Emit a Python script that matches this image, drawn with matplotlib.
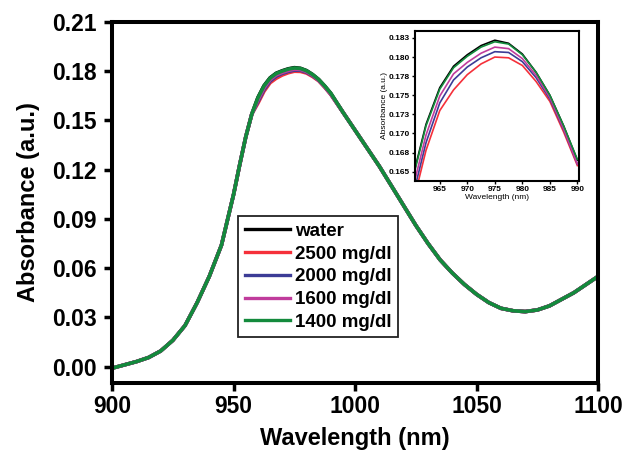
import matplotlib
matplotlib.use('Agg')
import matplotlib.pyplot as plt
import numpy as np

plt.rcParams['font.family'] = ['Liberation Sans', 'DejaVu Sans']

# shared tails of the spectra (curves overlap there)
wl_left = [900, 905, 910, 915, 920, 925, 930, 935, 940, 945, 950, 952.5,
           955, 957.5]
abs_left = [-0.001, 0.001, 0.003, 0.0055, 0.0095, 0.016, 0.025, 0.039,
            0.055, 0.074, 0.105, 0.123, 0.140, 0.154]
wl_right = [995, 1000, 1005, 1010, 1015, 1020, 1025, 1030, 1035, 1040,
            1045, 1050, 1055, 1060, 1065, 1070, 1075, 1080, 1085, 1090,
            1095, 1100]
abs_right = [0.155, 0.144, 0.133, 0.122, 0.110, 0.098, 0.086, 0.075,
             0.065, 0.057, 0.050, 0.044, 0.039, 0.0355, 0.034, 0.0335,
             0.0345, 0.037, 0.041, 0.045, 0.050, 0.055]

# peak region, per sample
wl_peak = [960, 962.5, 965, 967.5, 970, 972.5, 975, 977.5, 980, 982.5,
           985, 987.5, 990]
water = [0.1640, 0.1712, 0.1760, 0.1788, 0.1803, 0.1815, 0.1822, 0.1818,
         0.1804, 0.1780, 0.1750, 0.1710, 0.1665]
mg2500 = [0.1605, 0.1678, 0.1730, 0.1757, 0.1777, 0.1791, 0.1800, 0.1799,
          0.1789, 0.1768, 0.1742, 0.1702, 0.1658]
mg2000 = [0.1615, 0.1688, 0.1740, 0.1770, 0.1787, 0.1799, 0.1807, 0.1806,
          0.1794, 0.1773, 0.1745, 0.1705, 0.1660]
mg1600 = [0.1625, 0.1698, 0.1749, 0.1778, 0.1793, 0.1805, 0.1813, 0.1811,
          0.1798, 0.1776, 0.1747, 0.1706, 0.1660]
mg1400 = [0.1638, 0.1710, 0.1758, 0.1786, 0.1801, 0.1813, 0.1820, 0.1817,
          0.1803, 0.1780, 0.1750, 0.1710, 0.1666]

labels = ['water', '2500 mg/dl', '2000 mg/dl', '1600 mg/dl', '1400 mg/dl']
colors = ['#000000', '#f5303a', '#3c3c96', '#c03c9c', '#138a3c']
series = [water, mg2500, mg2000, mg1600, mg1400]

fig = plt.figure(figsize=(6.37, 4.5), dpi=100)
ax = fig.add_axes([0.176, 0.149, 0.763, 0.802])

for s, c, lab in zip(series, colors, labels):
    x = wl_left + wl_peak + wl_right
    y = abs_left + s + abs_right
    ax.plot(x, y, color=c, lw=2.6, label=lab)

ax.set_xlim(900, 1100)
ax.set_ylim(-0.01, 0.21)
ax.set_xticks([900, 950, 1000, 1050, 1100])
ax.set_yticks(np.arange(0, 0.211, 0.03))
ax.set_yticklabels(['0.00', '0.03', '0.06', '0.09', '0.12', '0.15', '0.18', '0.21'])
ax.tick_params(direction='out', length=6, width=2.5, labelsize=16.5, pad=3)
ax.tick_params(axis='y', pad=5)
for t in ax.get_xticklabels() + ax.get_yticklabels():
    t.set_fontweight('bold')
for sp in ax.spines.values():
    sp.set_linewidth(2.9)
ax.set_xlabel('Wavelength (nm)', fontsize=17, fontweight='bold', labelpad=6)
ax.set_ylabel('Absorbance (a.u.)', fontsize=17, fontweight='bold', labelpad=9)

leg = ax.legend(loc='lower left', bbox_to_anchor=(0.259, 0.126), borderaxespad=0,
                fancybox=False, edgecolor='#222222', framealpha=1,
                prop={'weight': 'bold', 'size': 13.5}, handlelength=2.4,
                handletextpad=0.3, labelspacing=0.3, borderpad=0.35)
leg.get_frame().set_linewidth(1.3)
for h in leg.get_lines():
    h.set_linewidth(2.4)

# inset zoom of the peak
ins = fig.add_axes([0.6515, 0.598, 0.2575, 0.333])
for s, c in zip(series, colors):
    ins.plot(wl_peak, s, color=c, lw=1.2)
ins.set_xlim(960.5, 990.3)
ins.set_ylim(0.1638, 0.1834)
ins.set_xticks([965, 970, 975, 980, 985, 990])
ins.set_yticks([0.165, 0.1675, 0.170, 0.1725, 0.175, 0.1775, 0.180, 0.1825])
ins.set_yticklabels(['0.165', '0.168', '0.170', '0.173', '0.175', '0.178', '0.180', '0.183'])
ins.tick_params(direction='out', length=2, width=1, labelsize=6, pad=1.5)
for t in ins.get_xticklabels() + ins.get_yticklabels():
    t.set_fontweight('bold')
for sp in ins.spines.values():
    sp.set_linewidth(1.5)
ins.set_xlabel('Wavelength (nm)', fontsize=6, labelpad=1)
ins.set_ylabel('Absorbance (a.u.)', fontsize=6, labelpad=1)

fig.savefig('out.png', dpi=100)
